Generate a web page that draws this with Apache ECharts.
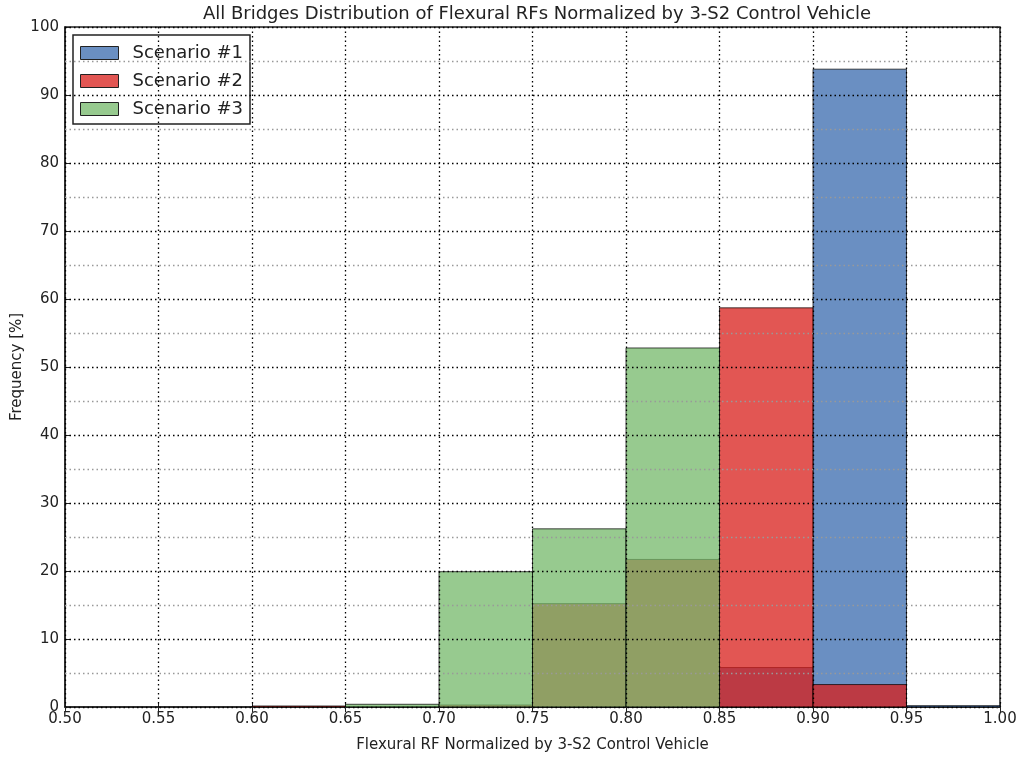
<!DOCTYPE html>
<html>
<head>
<meta charset="utf-8">
<script src="https://cdn.jsdelivr.net/npm/echarts@6/dist/echarts.min.js"></script>
<style>html,body{margin:0;padding:0;background:#fff}#c{width:1020px;height:757px}</style>
</head>
<body>
<div id="c"></div>
<script>
var binStarts = [0.50, 0.55, 0.60, 0.65, 0.70, 0.75, 0.80, 0.85, 0.90, 0.95];
var binWidth = 0.05;
var scenario1 = [0, 0, 0, 0, 0, 0, 0, 5.8, 93.8, 0.2];
var scenario2 = [0, 0, 0.15, 0, 0.3, 15.2, 21.7, 58.7, 3.3, 0];
var scenario3 = [0, 0, 0, 0.4, 19.9, 26.2, 52.8, 0, 0, 0];
var seriesNames = ['Scenario #1', 'Scenario #2', 'Scenario #3'];
var titleText = 'All Bridges Distribution of Flexural RFs Normalized by 3-S2 Control Vehicle';
var xLabel = 'Flexural RF Normalized by 3-S2 Control Vehicle';
var yLabel = 'Frequency [%]';

var colors = ['rgba(56,106,174,0.75)', 'rgba(216,30,26,0.75)', 'rgba(116,184,106,0.75)'];
var FONT = 'DejaVu Sans';

function makeData(vals) {
  return binStarts.map(function (s, i) {
    return [s, +(s + binWidth).toFixed(2), vals[i]];
  });
}
function makeRender(color) {
  return function (params, api) {
    var v = api.value(2);
    if (!v) return null;
    var p0 = api.coord([api.value(0), v]);
    var p1 = api.coord([api.value(1), 0]);
    return {
      type: 'rect',
      shape: { x: p0[0], y: p0[1], width: p1[0] - p0[0], height: p1[1] - p0[1] },
      style: { fill: color, stroke: 'rgba(0,0,0,0.7)', lineWidth: 1 }
    };
  };
}
var allVals = [scenario1, scenario2, scenario3];
var series = allVals.map(function (vals, k) {
  return {
    name: seriesNames[k],
    type: 'custom',
    renderItem: makeRender(colors[k]),
    data: makeData(vals),
    encode: { x: [0, 1], y: 2 },
    itemStyle: { color: colors[k], borderColor: '#222', borderWidth: 1 },
    xAxisIndex: 0, yAxisIndex: 0,
    z: 2 + k
  };
});

var dotted = { color: '#000', width: 1.3, type: [1.5, 3] };
var option = {
  animation: false,
  backgroundColor: '#fff',
  title: {
    text: titleText, left: 532, top: 0, textAlign: 'center',
    textStyle: { fontFamily: FONT, fontSize: 18, fontWeight: 'normal', color: '#222' }
  },
  legend: {
    left: 73, top: 35, orient: 'vertical',
    data: seriesNames,
    icon: 'rect', itemWidth: 38, itemHeight: 13, itemGap: 10,
    padding: [9, 7, 6, 7],
    backgroundColor: '#fff', borderColor: '#222', borderWidth: 1.5,
    textStyle: { fontFamily: FONT, fontSize: 18, color: '#222', padding: [0, 0, 0, 9] },
    itemStyle: { borderColor: '#222', borderWidth: 1 }
  },
  grid: {
    left: 65, right: 20, top: 27, bottom: 50,
    outerBoundsMode: 'none', containLabel: false,
    show: true, borderColor: '#222', borderWidth: 1.5, backgroundColor: 'transparent'
  },
  xAxis: [{
    type: 'value', min: 0.5, max: 1.0, interval: 0.05, position: 'bottom',
    name: xLabel, nameLocation: 'middle', nameGap: 31, nameMoveOverlap: false,
    nameTextStyle: { fontFamily: FONT, fontSize: 15, color: '#222' },
    axisLine: { show: true, lineStyle: { color: '#222', width: 1.5 } },
    axisTick: { show: true, inside: true, length: 5, lineStyle: { color: '#222' } },
    axisLabel: { fontFamily: FONT, fontSize: 15, color: '#222', margin: 5,
      formatter: function (v) { return v.toFixed(2); } },
    splitLine: { show: false }
  }, {
    type: 'value', min: 0.5, max: 1.0, interval: 0.05, position: 'top', z: 10,
    axisLine: { show: false },
    axisTick: { show: true, inside: true, length: 5, lineStyle: { color: '#222' } },
    axisLabel: { show: false },
    splitLine: { show: true, lineStyle: dotted }
  }],
  yAxis: [{
    type: 'value', min: 0, max: 100, interval: 10, position: 'left',
    name: yLabel, nameLocation: 'middle', nameGap: 40, nameMoveOverlap: false,
    nameTextStyle: { fontFamily: FONT, fontSize: 15, color: '#222' },
    axisLine: { show: true, lineStyle: { color: '#222', width: 1.5 } },
    axisTick: { show: true, inside: true, length: 5, lineStyle: { color: '#222' } },
    axisLabel: { fontFamily: FONT, fontSize: 15, color: '#222', margin: 6 },
    splitLine: { show: false }
  }, {
    type: 'value', min: 0, max: 100, interval: 10, position: 'right', z: 10,
    axisLine: { show: false },
    axisTick: { show: true, inside: true, length: 5, lineStyle: { color: '#222' } },
    axisLabel: { show: false },
    minorTick: { show: true, splitNumber: 2, length: 3, lineStyle: { color: '#444' } },
    splitLine: { show: true, lineStyle: dotted },
    minorSplitLine: { show: true, lineStyle: { color: '#999', width: 1.3, type: [1.5, 3] } }
  }],
  series: series
};
var chart = echarts.init(document.getElementById('c'), null, { renderer: 'canvas' });
chart.setOption(option);
</script>
</body>
</html>
